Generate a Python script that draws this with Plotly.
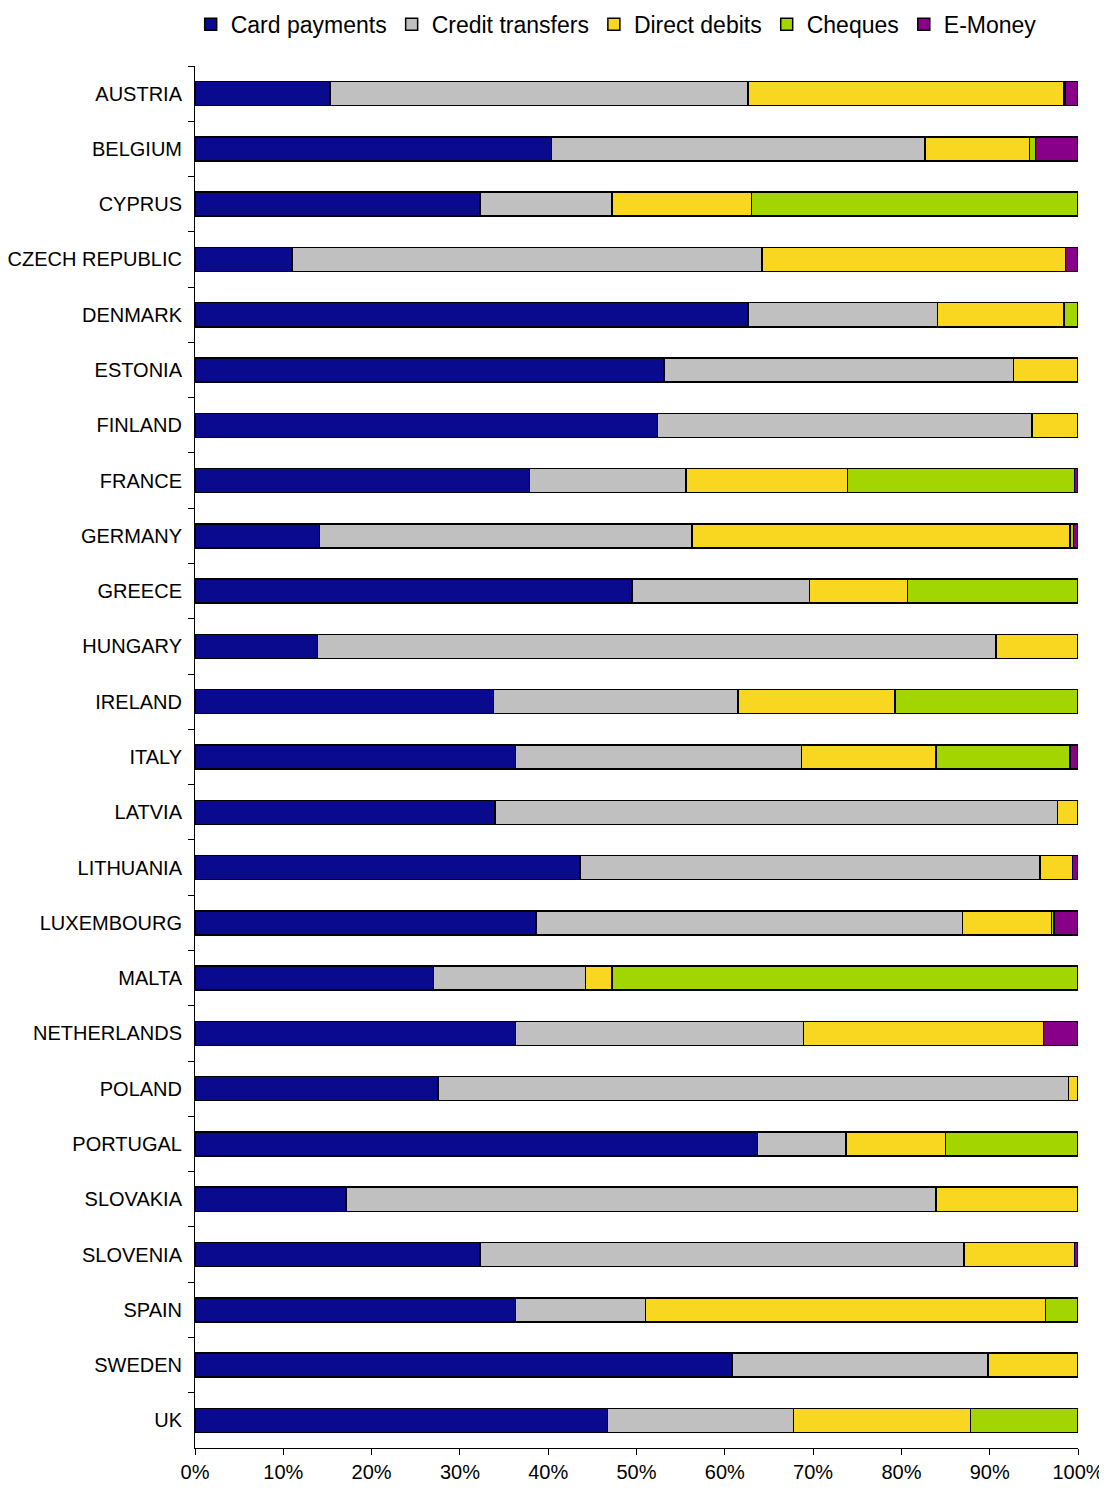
import plotly.graph_objects as go

countries = ["AUSTRIA", "BELGIUM", "CYPRUS", "CZECH REPUBLIC", "DENMARK", "ESTONIA",
             "FINLAND", "FRANCE", "GERMANY", "GREECE", "HUNGARY", "IRELAND", "ITALY",
             "LATVIA", "LITHUANIA", "LUXEMBOURG", "MALTA", "NETHERLANDS", "POLAND",
             "PORTUGAL", "SLOVAKIA", "SLOVENIA", "SPAIN", "SWEDEN", "UK"]

card_payments = [15.3, 40.4, 32.3, 11.0, 62.6, 53.1, 52.4, 37.9, 14.1, 49.5, 13.9, 33.8, 36.3,
                 34.0, 43.6, 38.6, 27.0, 36.3, 27.5, 63.7, 17.1, 32.3, 36.3, 60.8, 46.7]
credit_transfers = [47.3, 42.3, 14.9, 53.2, 21.5, 39.6, 42.4, 17.7, 42.2, 20.1, 76.8, 27.7, 32.4,
                    63.7, 52.1, 48.3, 17.2, 32.6, 71.4, 10.0, 66.8, 54.8, 14.7, 29.0, 21.1]
direct_debits = [35.8, 11.8, 15.8, 34.4, 14.3, 7.3, 5.2, 18.3, 42.8, 11.1, 9.3, 17.8, 15.2,
                 2.3, 3.7, 10.1, 3.0, 27.2, 1.1, 11.3, 16.1, 12.5, 45.3, 10.2, 20.0]
cheques = [0.2, 0.7, 37.0, 0.0, 1.6, 0.0, 0.0, 25.7, 0.4, 19.3, 0.0, 20.7, 15.2,
           0.0, 0.0, 0.3, 52.8, 0.0, 0.0, 15.0, 0.0, 0.0, 3.7, 0.0, 12.2]
e_money = [1.4, 4.8, 0.0, 1.4, 0.0, 0.0, 0.0, 0.4, 0.5, 0.0, 0.0, 0.0, 0.9,
           0.0, 0.6, 2.7, 0.0, 3.9, 0.0, 0.0, 0.0, 0.4, 0.0, 0.0, 0.0]

series = [
    ("Card payments", card_payments, "#0a0a8f"),
    ("Credit transfers", credit_transfers, "#c0c0c0"),
    ("Direct debits", direct_debits, "#f9d61f"),
    ("Cheques", cheques, "#a3d600"),
    ("E-Money", e_money, "#880088"),
]

fig = go.Figure()
for name, vals, color in series:
    fig.add_trace(go.Bar(
        name=name, y=countries, x=vals, orientation="h",
        marker=dict(color=color, line=dict(color="black", width=1.5)),
    ))

fig.update_layout(
    barmode="stack",
    width=1107, height=1490,
    margin=dict(l=187, r=37, t=58, b=50, autoexpand=False),
    paper_bgcolor="white", plot_bgcolor="white",
    bargap=0.565,
    font=dict(family="Liberation Sans, Arial, sans-serif", size=20, color="black"),
    legend=dict(orientation="h", x=0.477, xanchor="center", xref="paper",
                y=0.989, yanchor="middle", yref="container",
                font=dict(size=23), traceorder="normal",
                itemwidth=30, tracegroupgap=0),
    showlegend=True,
)
fig.update_xaxes(range=[0, 100], dtick=10, ticksuffix="%", showgrid=False, zeroline=False,
                 showline=True, linecolor="black", linewidth=1, ticks="outside",
                 ticklen=6, tickcolor="black", tickfont=dict(size=20), automargin=False)
fig.update_yaxes(autorange="reversed", showgrid=False, showline=True, linecolor="black",
                 linewidth=1, ticks="outside", tickson="boundaries", ticklen=6,
                 tickcolor="black", tickfont=dict(size=20), automargin=False,
                 ticklabelstandoff=8)

fig.write_html("out.html")
